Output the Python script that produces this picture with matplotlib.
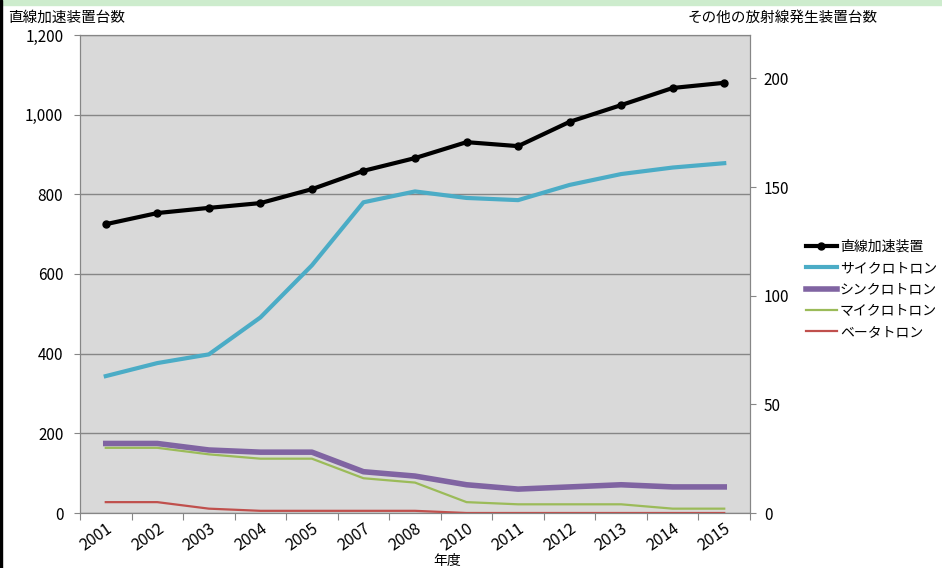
import matplotlib.pyplot as plt
from matplotlib.patches import Rectangle
from matplotlib.ticker import FuncFormatter

plt.rcParams['font.family'] = ['Noto Sans CJK JP', 'DejaVu Sans']

years = ['2001', '2002', '2003', '2004', '2005', '2007', '2008',
         '2010', '2011', '2012', '2013', '2014', '2015']

# left axis
linac = [725, 753, 766, 778, 813, 859, 891, 931, 921, 982, 1024, 1067, 1080]

# right axis
cyclotron = [63, 69, 73, 90, 114, 143, 148, 145, 144, 151, 156, 159, 161]
synchrotron = [32, 32, 29, 28, 28, 19, 17, 13, 11, 12, 13, 12, 12]
microtron = [30, 30, 27, 25, 25, 16, 14, 5, 4, 4, 4, 2, 2]
betatron = [5, 5, 2, 1, 1, 1, 1, 0, 0, 0, 0, 0, 0]

W, H = 942, 568
fig = plt.figure(figsize=(W / 100, H / 100), dpi=100)
ax = fig.add_axes([80 / W, 1 - 513 / H, 670 / W, 478 / H])
ax2 = ax.twinx()

# frame decoration of the original screenshot
fig.patches.append(Rectangle((0, 1 - 5 / H), 1, 5 / H, transform=fig.transFigure,
                             color='#cdeccd', zorder=0))
fig.patches.append(Rectangle((0, 0), 1.5 / W, 1, transform=fig.transFigure,
                             color='black', zorder=0))

x = range(len(years))
grey = '#868686'

ax.set_facecolor('#d9d9d9')
ax.set_zorder(0)
ax2.set_zorder(1)
ax2.patch.set_visible(False)

ax.plot(x, linac, color='black', lw=3, marker='o', ms=5, label='直線加速装置',
        zorder=5)
ax2.plot(x, cyclotron, color='#4bacc6', lw=3, label='サイクロトロン')
ax2.plot(x, synchrotron, color='#8064a2', lw=4, label='シンクロトロン')
ax2.plot(x, microtron, color='#9bbb59', lw=1.6, label='マイクロトロン')
ax2.plot(x, betatron, color='#c0504d', lw=1.6, label='ベータトロン')

ax.set_xlim(-0.5, len(years) - 0.5)
ax.set_ylim(0, 1200)
ax.set_yticks(range(0, 1201, 200))
ax.yaxis.set_major_formatter(FuncFormatter(lambda v, p: f'{int(v):,}'))
ax.grid(axis='y', color=grey, lw=1)
ax.set_axisbelow(True)
ax2.set_ylim(0, 220)
ax2.set_yticks(range(0, 201, 50))

ax.set_xticks([i - 0.5 for i in range(len(years) + 1)], minor=False)
ax.set_xticklabels([])
ax.set_xticks(list(x), minor=True)
ax.set_xticklabels(years, minor=True, rotation=35, ha='right',
                   rotation_mode='anchor', fontsize=11.5)
ax.tick_params(axis='x', which='minor', length=0, pad=5)
ax.tick_params(axis='x', which='major', length=5, color=grey)

ax.tick_params(axis='y', length=4, color=grey, labelsize=11, pad=8)
ax2.tick_params(axis='y', length=4, color=grey, labelsize=11, pad=6)

for a in (ax, ax2):
    for s in a.spines.values():
        s.set_color(grey)

fig.text(8 / W, 1 - 18 / H, '直線加速装置台数', fontsize=10.5, va='center')
fig.text(878 / W, 1 - 18 / H, 'その他の放射線発生装置台数', fontsize=10.5,
         va='center', ha='right')
fig.text(447 / W, 1 - 561 / H, '年度', fontsize=10, ha='center', va='center')

h1, l1 = ax.get_legend_handles_labels()
h2, l2 = ax2.get_legend_handles_labels()
fig.legend(h1 + h2, l1 + l2, loc='upper left',
           bbox_to_anchor=(806 / W, 1 - 240 / H), frameon=False, fontsize=10,
           handlelength=2.2, handletextpad=0.25, labelspacing=0.52,
           borderaxespad=0, borderpad=0)

fig.savefig('out.png', dpi=100)
